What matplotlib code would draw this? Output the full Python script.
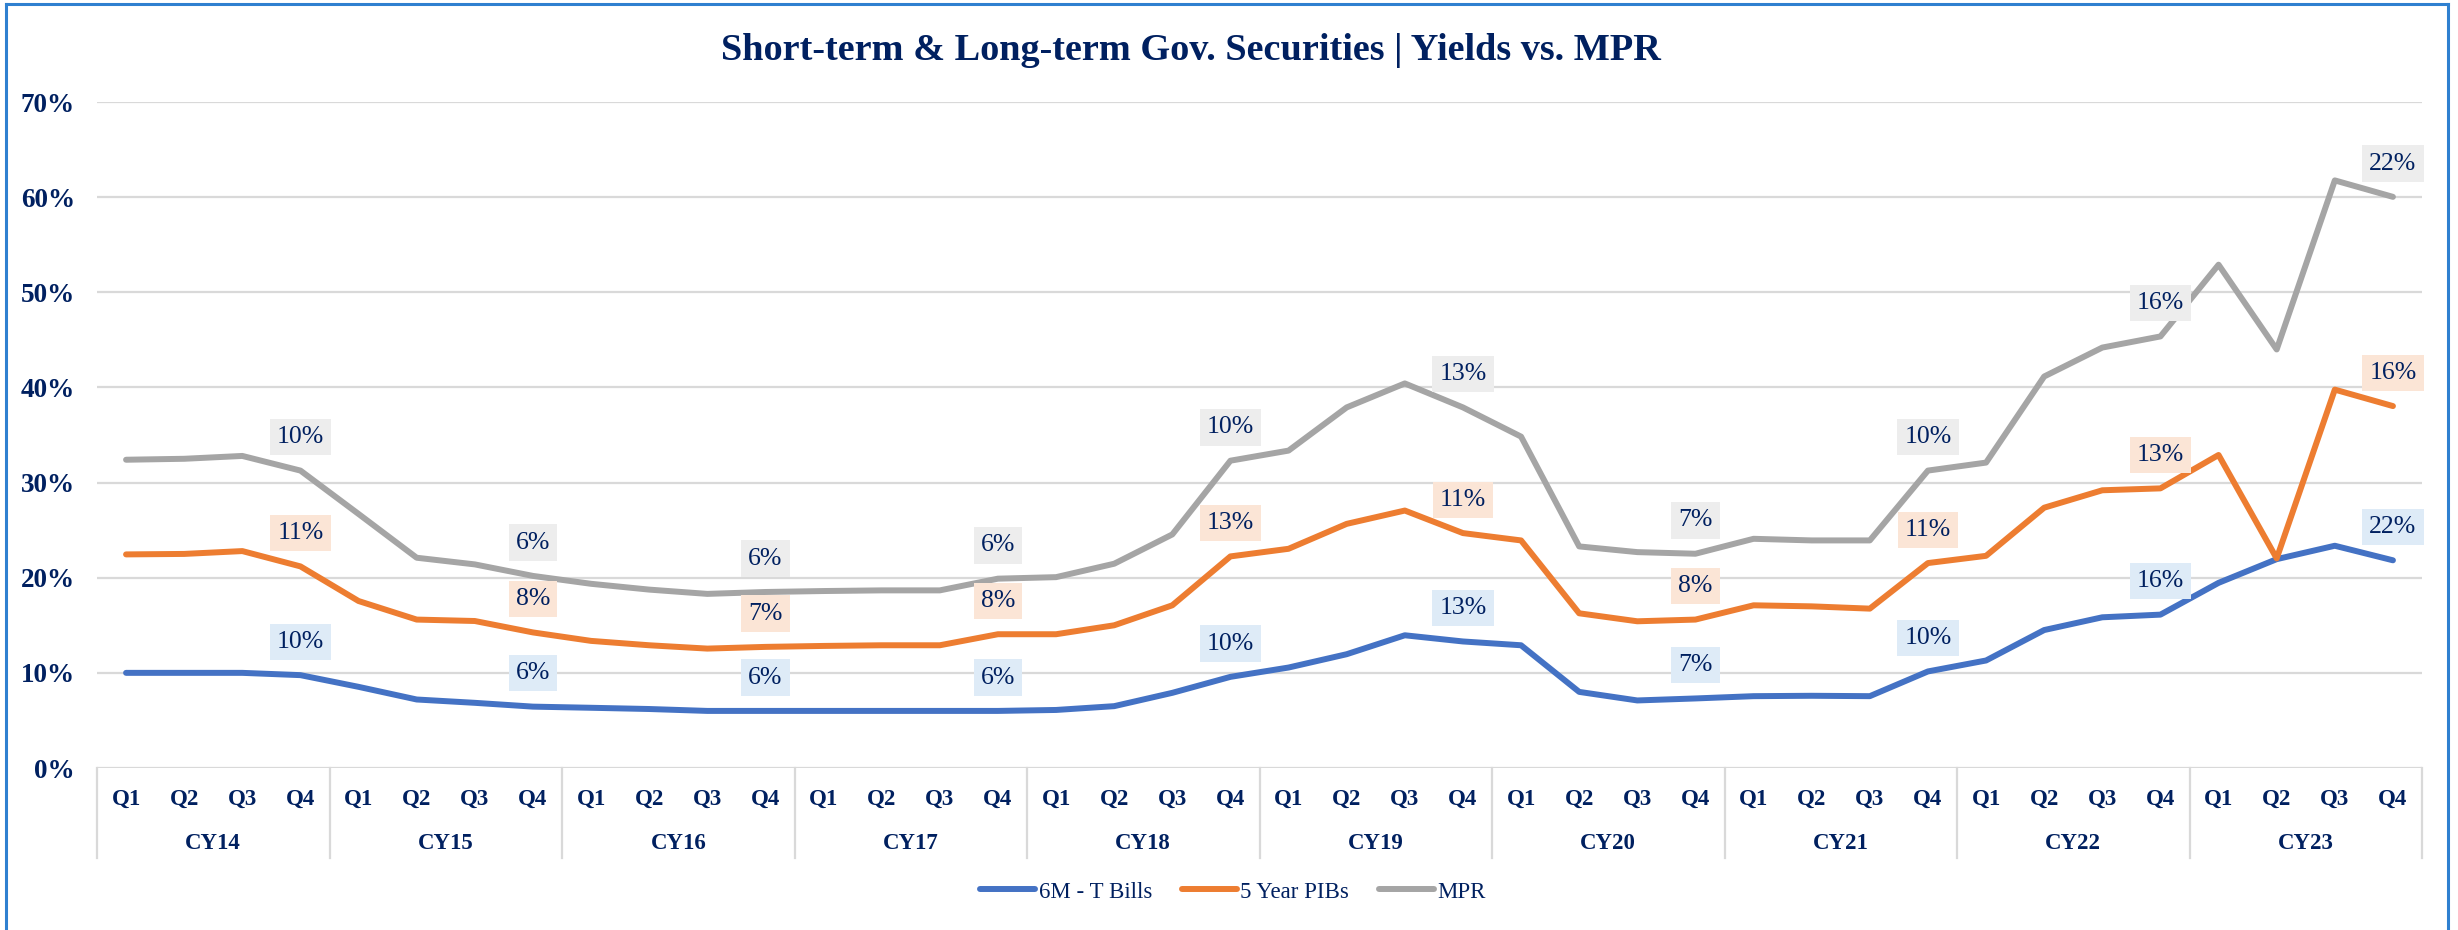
import numpy as np
import matplotlib
matplotlib.use("Agg")
import matplotlib.pyplot as plt
from matplotlib.lines import Line2D
import matplotlib.transforms as mtransforms

# ---------------- data ----------------
years = ["CY14", "CY15", "CY16", "CY17", "CY18", "CY19", "CY20", "CY21", "CY22", "CY23"]
quarters = ["Q1", "Q2", "Q3", "Q4"]

tbills = [10.0, 10.0, 10.0, 9.76, 8.53, 7.2, 6.85, 6.45, 6.33, 6.2,
          6.0, 6.0, 6.0, 6.0, 6.0, 6.0, 6.1, 6.5, 7.9, 9.58,
          10.56, 11.96, 13.95, 13.3, 12.9, 8.0, 7.1, 7.31, 7.55, 7.59,
          7.55, 10.15, 11.3, 14.5, 15.84, 16.12, 19.46, 21.95, 23.36, 21.83]
pibs = [12.45, 12.5, 12.8, 11.43, 9.02, 8.4, 8.6, 7.8, 7.03, 6.7,
        6.55, 6.73, 6.83, 6.9, 6.9, 8.06, 7.96, 8.5, 9.2, 12.66,
        12.48, 13.7, 13.11, 11.39, 11.02, 8.26, 8.32, 8.29, 9.55, 9.4,
        9.2, 11.39, 11.0, 12.86, 13.35, 13.27, 13.44, 0.08, 16.41, 16.21]
mpr = [9.95, 10.0, 10.0, 10.07, 9.15, 6.5, 5.95, 5.94, 6.0, 5.85,
       5.75, 5.77, 5.77, 5.77, 5.77, 5.84, 6.0, 6.47, 7.45, 10.06,
       10.32, 12.24, 13.36, 13.21, 10.91, 7.03, 7.27, 6.92, 6.99, 6.93,
       7.17, 9.72, 9.8, 13.79, 15.0, 15.97, 20.0, 21.96, 21.99, 21.99]
series_names = ["6M - T Bills", "5 Year PIBs", "MPR"]
yticks = [0, 10, 20, 30, 40, 50, 60, 70]

# ---------------- style ----------------
W, H, DPI = 2458, 930, 100
navy = "#002060"
line_colors = ["#4472C4", "#ED7D31", "#A5A5A5"]
label_bg = ["#DEEBF7", "#FBE5D6", "#EDEDED"]
grid_c = "#D9D9D9"
FONT = "Liberation Serif"
plt.rcParams["font.family"] = [FONT, "DejaVu Serif"]

fig = plt.figure(figsize=(W / DPI, H / DPI), dpi=DPI)
fig.patch.set_facecolor("white")
ax = fig.add_axes([97 / W, 1 - 768 / H, (2422 - 97) / W, (768 - 102) / H])

n = len(tbills)
x = np.arange(n)
stack = np.cumsum(np.vstack([tbills, pibs, mpr]), axis=0)
raw = [tbills, pibs, mpr]

for k in range(3):
    ax.plot(x, stack[k], color=line_colors[k], lw=4.3, solid_capstyle="round",
            solid_joinstyle="round", zorder=3 + k, label=series_names[k])

# data labels at every Q4
for k in range(3):
    for i in range(3, n, 4):
        ax.annotate(f"{raw[k][i]:.0f}%", xy=(x[i], stack[k][i]), xytext=(0, 24),
                    textcoords="offset points", ha="center", va="center",
                    fontsize=18.5, color=navy, zorder=10,
                    bbox=dict(boxstyle="square,pad=0.28", fc=label_bg[k], ec="none"))

ax.set_xlim(-0.5, n - 0.5)
ax.set_ylim(0, 70)
ax.set_yticks(yticks)
ax.set_yticklabels([f"{t}%" for t in yticks], fontsize=19.5, fontweight="bold", color=navy)
ax.tick_params(axis="y", length=0, pad=16)
ax.set_xticks([])
for s in ax.spines.values():
    s.set_visible(False)
ax.grid(axis="y", color=grid_c, lw=1.6, zorder=0)
ax.set_axisbelow(True)

# multi-level category axis
trans = mtransforms.blended_transform_factory(ax.transData, ax.transAxes)
for i in range(n):
    ax.text(x[i], -0.0465, quarters[i % 4], transform=trans, ha="center", va="center",
            fontsize=16.5, fontweight="bold", color=navy)
for j, yr in enumerate(years):
    ax.text(4 * j + 1.5, -0.114, yr, transform=trans, ha="center", va="center",
            fontsize=16.5, fontweight="bold", color=navy)
for j in range(len(years) + 1):
    ax.plot([4 * j - 0.5, 4 * j - 0.5], [0, -0.135], transform=trans, color=grid_c,
            lw=1.6, clip_on=False, zorder=1)

# title
fig.text(1191 / W, 1 - 50 / H, "Short-term & Long-term Gov. Securities | Yields vs. MPR",
         ha="center", va="center", fontsize=27.5, fontweight="bold", color=navy)

# legend
handles = [Line2D([0], [0], color=c, lw=4.3, solid_capstyle="round") for c in line_colors]
leg = fig.legend(handles, series_names, loc="center", bbox_to_anchor=(1233 / W, 1 - 892 / H),
                 ncol=3, frameon=False, fontsize=16.5, handlelength=2.4,
                 handletextpad=0.15, columnspacing=1.3)
for t in leg.get_texts():
    t.set_color(navy)

# blue frame (left, top, right)
bc = "#2F80D0"
fig.add_artist(Line2D([6 / W, 6 / W], [0, 1 - 4 / H], transform=fig.transFigure, color=bc, lw=2.2))
fig.add_artist(Line2D([6 / W, 2448 / W], [1 - 4 / H, 1 - 4 / H], transform=fig.transFigure, color=bc, lw=2.2))
fig.add_artist(Line2D([2448 / W, 2448 / W], [0, 1 - 4 / H], transform=fig.transFigure, color=bc, lw=2.2))

fig.savefig("out.png", dpi=DPI, facecolor="white")
